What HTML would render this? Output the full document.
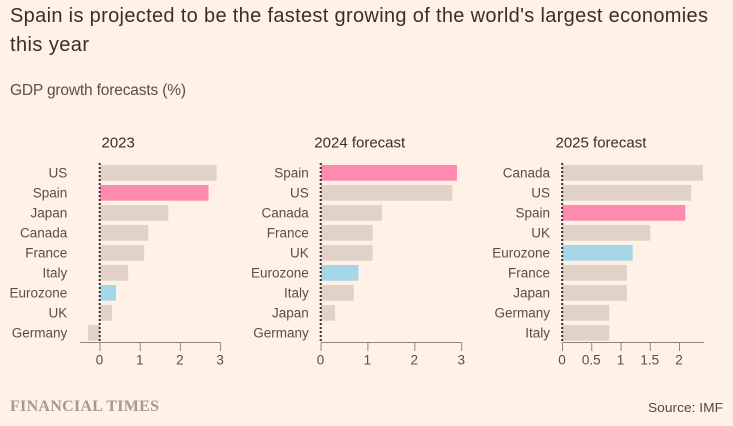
<!DOCTYPE html>
<html lang="en">
<head>
<meta charset="utf-8">
<title>GDP growth forecasts</title>
<style>
html,body{margin:0;padding:0;background:#fff1e5;}
body{width:733px;height:426px;overflow:hidden;}
svg{display:block;font-family:"Liberation Sans",sans-serif;}
</style>
</head>
<body>
<svg id="chart" width="733" height="426" viewBox="0 0 733 426" xmlns="http://www.w3.org/2000/svg">
  <rect width="733" height="426" fill="#fff1e5"/>
  <text x="10" y="22" font-size="20" fill="#33302e" textLength="698" lengthAdjust="spacing">Spain is projected to be the fastest growing of the world's largest economies</text>
  <text x="10" y="51" font-size="20" fill="#33302e" textLength="79" lengthAdjust="spacing">this year</text>
  <text x="10" y="95" font-size="15.5" fill="#55504c" textLength="176" lengthAdjust="spacing">GDP growth forecasts (%)</text>
  <text x="10" y="411" font-family="'Liberation Serif',serif" font-weight="bold" font-size="16" fill="#a39a93" textLength="149" lengthAdjust="spacing">FINANCIAL TIMES</text>
  <text x="648" y="412" font-size="13" fill="#4f4a46" textLength="75" lengthAdjust="spacingAndGlyphs">Source: IMF</text>
</svg>
<script>
const categories2023 = ['US','Spain','Japan','Canada','France','Italy','Eurozone','UK','Germany'];
const values2023 = [2.9,2.7,1.7,1.2,1.1,0.7,0.4,0.3,-0.3];
const ticks2023 = [0,1,2,3];
const tickLabels2023 = ['0','1','2','3'];

const categories2024 = ['Spain','US','Canada','France','UK','Eurozone','Italy','Japan','Germany'];
const values2024 = [2.9,2.8,1.3,1.1,1.1,0.8,0.7,0.3,0];
const ticks2024 = [0,1,2,3];
const tickLabels2024 = ['0','1','2','3'];

const categories2025 = ['Canada','US','Spain','UK','Eurozone','France','Japan','Germany','Italy'];
const values2025 = [2.4,2.2,2.1,1.5,1.2,1.1,1.1,0.8,0.8];
const ticks2025 = [0,0.5,1,1.5,2];
const tickLabels2025 = ['0','0.5','1','1.5','2'];

const svg = document.getElementById('chart');
const NS = 'http://www.w3.org/2000/svg';
function make(tag, attrs, text){
  const el = document.createElementNS(NS, tag);
  for (const k in attrs) el.setAttribute(k, attrs[k]);
  if (text !== undefined) el.textContent = text;
  svg.appendChild(el);
  return el;
}
function barColor(name){
  if (name === 'Spain') return '#ff8ab0';
  if (name === 'Eurozone') return '#a6d7e8';
  return '#e0d2c8';
}
function slug(s){ return s.toLowerCase().replace(/[^a-z0-9]+/g,'-'); }

function drawPanel(title, titleX, cats, vals, ticks, labels, x0, pxPerUnit, axisMin, axisMax, labelRight){
  const xScale = v => x0 + v * pxPerUnit;
  const yBand = i => 165 + i * 20;
  const prefix = slug(title);

  const t = make('text', {x:titleX, y:147.5, 'font-size':15, fill:'#33302e'}, title);
  
  

  cats.forEach((c, i) => {
    const lab = make('text', {x:labelRight, y:yBand(i)+12.7, 'text-anchor':'end', 'font-size':13.5, fill:'#55504c'}, c);
    
    
    const v = vals[i];
    const left = Math.min(xScale(0), xScale(v));
    const w = Math.abs(xScale(v) - xScale(0));
    const bar = make('rect', {x:left, y:yBand(i), width:w, height:15.7, fill:barColor(c)});
    
    
  });

  const axis = make('line', {x1:xScale(axisMin), x2:xScale(axisMax), y1:342.5, y2:342.5, stroke:'#8f857d', 'stroke-width':1});
  
  

  ticks.forEach((tv, i) => {
    const tick = make('line', {x1:xScale(tv), x2:xScale(tv), y1:342.5, y2:351, stroke:'#8f857d', 'stroke-width':1});
    
    
    const tl = make('text', {x:xScale(tv)-0.5, y:364.5, 'text-anchor':'middle', 'font-size':13.5, fill:'#55504c'}, labels[i]);
    
    
  });

  const zero = make('line', {x1:xScale(0)-0.3, x2:xScale(0)-0.3, y1:163, y2:342, stroke:'#33302e', 'stroke-width':2, 'stroke-dasharray':'2 2'});
  
  
}

drawPanel('2023', 101.5, categories2023, values2023, ticks2023, tickLabels2023, 100, 40.2, -0.5, 3, 67.3);
drawPanel('2024 forecast', 314.3, categories2024, values2024, ticks2024, tickLabels2024, 321, 46.9, 0, 3, 308.8);
drawPanel('2025 forecast', 555.5, categories2025, values2025, ticks2025, tickLabels2025, 562.5, 58.5, 0, 2.42, 550);
</script>
</body>
</html>
